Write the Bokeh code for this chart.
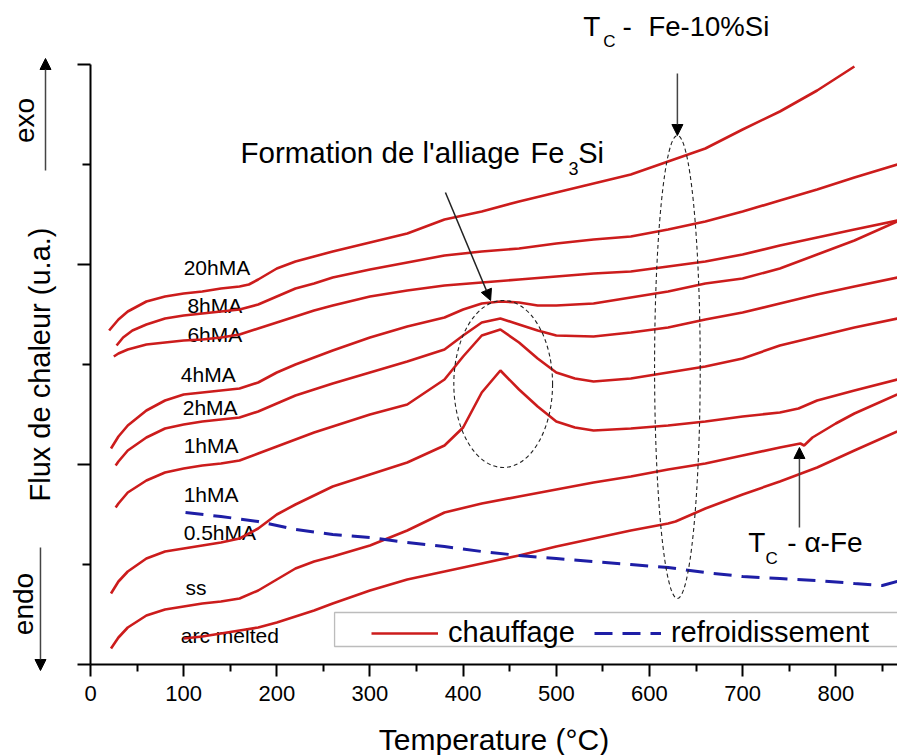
from bokeh.plotting import figure
from bokeh.models import (Range1d, FixedTicker, Label, Arrow, NormalHead,
                          BoxAnnotation, Legend, LegendItem)
from bokeh.core.properties import value
from bokeh.embed import file_html
from bokeh.resources import INLINE

# ---------------- data (temperature in degC, heat flow in arbitrary units) ----
t_20h = [20, 30, 40, 60, 80, 100, 120, 140, 160, 170, 180, 200, 220, 240, 260, 300, 340,
         380, 420, 460, 500, 540, 580, 620, 660, 700, 740, 780, 820]
q_20h = [1.67, 1.725, 1.765, 1.815, 1.84, 1.855, 1.865, 1.88, 1.89, 1.90, 1.925, 1.98, 2.015,
         2.04, 2.065, 2.11, 2.155, 2.225, 2.265, 2.315, 2.36, 2.405, 2.45, 2.515, 2.58, 2.675,
         2.765, 2.87, 2.99]

t_8h = [28, 35, 45, 60, 80, 100, 120, 140, 160, 180, 200, 220, 240, 260, 300, 340, 380, 420,
        460, 500, 540, 580, 620, 660, 700, 740, 780, 820, 866]
q_8h = [1.595, 1.635, 1.67, 1.70, 1.73, 1.745, 1.755, 1.765, 1.775, 1.80, 1.84, 1.88, 1.905,
        1.935, 1.975, 2.01, 2.045, 2.065, 2.08, 2.105, 2.125, 2.14, 2.175, 2.215, 2.265, 2.32,
        2.375, 2.435, 2.50]

t_6h = [25, 30, 40, 60, 80, 100, 120, 140, 160, 180, 200, 220, 240, 260, 300, 340, 380, 420,
        460, 500, 540, 580, 620, 660, 700, 740, 780, 820, 866]
q_6h = [1.54, 1.555, 1.575, 1.60, 1.61, 1.62, 1.625, 1.635, 1.65, 1.68, 1.71, 1.74, 1.77,
        1.795, 1.84, 1.87, 1.895, 1.91, 1.925, 1.94, 1.955, 1.965, 1.99, 2.015, 2.05, 2.095,
        2.135, 2.175, 2.22]

t_4h = [22, 30, 40, 60, 80, 100, 120, 140, 160, 180, 200, 220, 240, 260, 300, 340, 380, 400,
        420, 440, 460, 480, 500, 540, 580, 620, 660, 700, 740, 780, 820, 866]
q_4h = [1.08, 1.14, 1.195, 1.27, 1.32, 1.35, 1.36, 1.37, 1.38, 1.41, 1.46, 1.50, 1.535, 1.57,
        1.635, 1.69, 1.735, 1.775, 1.805, 1.815, 1.81, 1.795, 1.795, 1.805, 1.835, 1.865,
        1.905, 1.93, 1.98, 2.05, 2.12, 2.215]

t_2h = [27, 30, 40, 60, 80, 100, 120, 140, 160, 180, 200, 220, 240, 260, 300, 340, 380, 400,
        420, 440, 460, 480, 500, 540, 580, 620, 660, 700, 740, 780, 820, 866]
q_2h = [0.995, 1.015, 1.07, 1.135, 1.18, 1.20, 1.215, 1.225, 1.235, 1.265, 1.305, 1.345,
        1.375, 1.405, 1.46, 1.515, 1.575, 1.645, 1.71, 1.73, 1.70, 1.67, 1.645, 1.64, 1.66,
        1.685, 1.725, 1.76, 1.805, 1.85, 1.89, 1.935]

t_1h = [27, 30, 40, 60, 80, 100, 120, 140, 160, 180, 200, 220, 240, 260, 300, 340, 380, 400,
        420, 440, 460, 480, 500, 520, 540, 580, 620, 660, 700, 740, 780, 820, 866]
q_1h = [0.785, 0.805, 0.86, 0.92, 0.96, 0.98, 0.995, 1.005, 1.02, 1.055, 1.09, 1.125, 1.16,
        1.19, 1.25, 1.30, 1.425, 1.54, 1.645, 1.675, 1.61, 1.53, 1.46, 1.43, 1.415, 1.43,
        1.46, 1.49, 1.53, 1.595, 1.64, 1.685, 1.73]

t_05h = [22, 30, 40, 60, 80, 100, 120, 140, 160, 180, 200, 220, 240, 260, 300, 340, 380, 400,
         420, 440, 460, 480, 500, 520, 540, 580, 620, 660, 700, 740, 760, 780, 820, 866]
q_05h = [0.355, 0.415, 0.465, 0.53, 0.565, 0.58, 0.595, 0.61, 0.63, 0.68, 0.75, 0.80, 0.845,
         0.89, 0.95, 1.01, 1.095, 1.185, 1.36, 1.47, 1.375, 1.29, 1.215, 1.185, 1.17, 1.18,
         1.195, 1.215, 1.24, 1.26, 1.28, 1.32, 1.37, 1.425]

t_ss = [22, 30, 40, 60, 80, 100, 120, 140, 160, 180, 200, 220, 240, 260, 300, 340, 380, 420,
        460, 500, 540, 580, 620, 660, 700, 740, 762, 766, 775, 800, 820, 866]
q_ss = [0.08, 0.135, 0.185, 0.245, 0.275, 0.29, 0.305, 0.315, 0.33, 0.37, 0.425, 0.48, 0.515,
        0.54, 0.595, 0.67, 0.76, 0.805, 0.84, 0.875, 0.91, 0.94, 0.975, 1.005, 1.045, 1.085,
        1.105, 1.095, 1.135, 1.205, 1.255, 1.35]

t_arc = [100, 120, 140, 160, 180, 200, 220, 240, 260, 300, 340, 380, 420, 460, 500, 540, 580,
         620, 628, 660, 700, 740, 780, 820, 866]
q_arc = [0.13, 0.14, 0.155, 0.17, 0.185, 0.21, 0.24, 0.27, 0.305, 0.37, 0.425, 0.465, 0.505,
         0.545, 0.59, 0.63, 0.67, 0.705, 0.715, 0.78, 0.85, 0.915, 0.985, 1.07, 1.165]

# cooling run (1hMA)
t_cool = [102, 140, 180, 220, 260, 300, 340, 380, 420, 460, 500, 540, 580, 620, 660, 700,
          740, 780, 820, 850, 866]
q_cool = [0.76, 0.74, 0.715, 0.675, 0.65, 0.635, 0.61, 0.59, 0.565, 0.545, 0.53, 0.515, 0.50,
          0.485, 0.46, 0.44, 0.43, 0.42, 0.405, 0.395, 0.415]

heating_runs = [(t_20h, q_20h), (t_8h, q_8h), (t_6h, q_6h), (t_4h, q_4h), (t_2h, q_2h),
                (t_1h, q_1h), (t_05h, q_05h), (t_ss, q_ss), (t_arc, q_arc)]
sample_names = ["20hMA", "8hMA", "6hMA", "4hMA", "2hMA", "1hMA", "1hMA", "0.5hMA", "ss",
                "arc melted"]

x_ticks = [0, 100, 200, 300, 400, 500, 600, 700, 800]
x_minor = [50, 150, 250, 350, 450, 550, 650, 750, 850]
y_ticks = [0, 1, 2, 3]
y_minor = [0.5, 1.5, 2.5]

FONT = "Liberation Sans"
RED = "#cc1c1c"
BLUE = "#1e1ea6"

# the frame covers the whole canvas; the axes are pinned at T=0 and q=0
p = figure(width=897, height=755, output_backend="svg", toolbar_location=None,
           x_range=Range1d(-96.61, 866.27), y_range=Range1d(-0.455, 3.32),
           min_border_left=0, min_border_right=0, min_border_top=0, min_border_bottom=0)
p.outline_line_color = None
p.grid.visible = False
p.background_fill_color = "white"
p.border_fill_color = "white"

# axes
xa = p.xaxis[0]
xa.fixed_location = 0
xa.bounds = (0, 866.27)
xa.ticker = FixedTicker(ticks=x_ticks, minor_ticks=x_minor)
xa.axis_label = "Temperature (°C)"
xa.axis_label_text_font = FONT
xa.axis_label_text_font_size = "30px"
xa.axis_label_text_font_style = "normal"
xa.axis_label_text_color = "black"
xa.axis_label_standoff = 19
xa.major_label_text_font = FONT
xa.major_label_text_font_size = "22px"
xa.major_label_text_color = "black"
xa.major_label_standoff = 9
xa.major_tick_in = 0
xa.major_tick_out = 12
xa.minor_tick_in = 0
xa.minor_tick_out = 7
xa.axis_line_width = 2
xa.major_tick_line_width = 2
xa.minor_tick_line_width = 2

ya = p.yaxis[0]
ya.fixed_location = 0
ya.bounds = (0, 3)
ya.ticker = FixedTicker(ticks=y_ticks, minor_ticks=y_minor)
ya.major_label_overrides = {0: "", 1: "", 2: "", 3: ""}
ya.axis_label = "Flux de chaleur (u.a.)"
ya.axis_label_text_font = FONT
ya.axis_label_text_font_size = "29px"
ya.axis_label_text_font_style = "normal"
ya.axis_label_text_color = "black"
ya.axis_label_standoff = 22
ya.major_label_standoff = 0
ya.major_tick_in = 0
ya.major_tick_out = 13
ya.minor_tick_in = 0
ya.minor_tick_out = 8
ya.axis_line_width = 2
ya.major_tick_line_width = 2
ya.minor_tick_line_width = 2

# curve labels (drawn under the curves)
p.text(x=[100, 104, 104, 97, 99, 100, 100, 100, 102, 97],
       y=[1.985, 1.795, 1.65, 1.45, 1.285, 1.095, 0.85, 0.66, 0.385, 0.145],
       text=sample_names, text_font=value(FONT), text_font_size=value("21px"),
       text_color="black", text_align="left", text_baseline="alphabetic")

# heating curves
heat_renderers = []
for t, q in heating_runs:
    r = p.line(t, q, line_color=RED, line_width=2.6)
    heat_renderers.append(r)

# cooling curve
r_cool = p.line(t_cool, q_cool, line_color=BLUE, line_width=3, line_dash="18 10")

# dashed ellipses around the events
p.ellipse(x=[443, 630], y=[1.4025, 1.4875], width=[106, 49], height=[0.835, 2.315],
          fill_color=None, line_color="#222222", line_width=1.1, line_dash="4 3")

# legend frame + legend
p.add_layout(BoxAnnotation(left=262, right=1000, bottom=0.09, top=0.26, fill_alpha=0,
                           line_color="#222222", line_width=1.3))
legend = Legend(items=[LegendItem(label="chauffage", renderers=[heat_renderers[0]]),
                       LegendItem(label="refroidissement", renderers=[r_cool])],
                location=(371, 106), orientation="horizontal", padding=0, margin=0,
                spacing=19, label_standoff=10, glyph_width=67, glyph_height=30,
                label_text_font=FONT, label_text_font_size="29px",
                label_text_color="black", border_line_alpha=0, background_fill_alpha=0)
p.add_layout(legend)

# annotations
def lab(x, y, text, size="28px", **kw):
    p.add_layout(Label(x=x, y=y, text=text, text_font=FONT, text_font_size=size,
                       text_color="black", text_baseline="alphabetic", **kw))

lab(161, 2.56, "Formation de l'alliage", size="29.5px")
lab(472.3, 2.56, "Fe", size="29px")
lab(513, 2.48, "3", size="18px")
lab(523.5, 2.56, "Si", size="29px")

lab(529, 3.188, "T")
lab(550.5, 3.113, "C", size="17px")
lab(571.1, 3.188, "-")
lab(599, 3.188, "Fe-10%Si", size="27.5px")

lab(706, 0.608, "T")
lab(724.5, 0.528, "C", size="17px")
lab(748, 0.608, "- α-Fe")

lab(-70.4, 2.72, "exo", angle=90, angle_units="deg", text_align="center")
lab(-72.4, 0.3025, "endo", angle=90, angle_units="deg", text_align="center")

def arrow(x0, y0, x1, y1, color="#444444"):
    p.add_layout(Arrow(end=NormalHead(size=11, fill_color="black", line_color="black"),
                       x_start=x0, y_start=y0, x_end=x1, y_end=y1,
                       line_color=color, line_width=1.5))

arrow(630, 2.955, 630, 2.645)
arrow(381, 2.36, 429.5, 1.82, color="#222222")
arrow(761, 0.685, 761, 1.085)
arrow(-48.3, 2.47, -48.3, 3.03)
arrow(-53.7, 0.585, -53.7, -0.03)

open("out.html", "w").write(file_html(p, INLINE))
